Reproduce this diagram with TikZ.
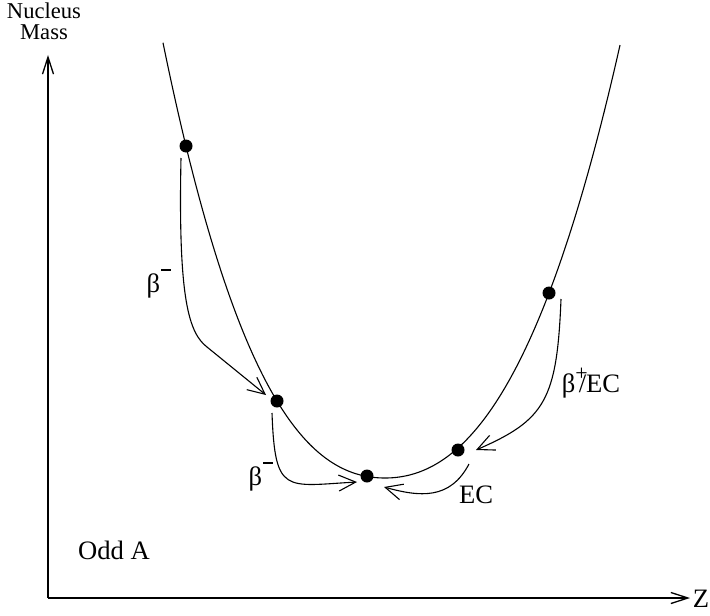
\documentclass[tikz,border=0pt]{standalone}
\usepackage{fontspec}
\setmainfont{Liberation Serif}
\usetikzlibrary{arrows.meta}
\tikzset{
  ax/.style={line width=0.65pt, -{Straight Barb[length=8.5pt,width=5.5pt,line width=0.65pt]}},
  dec/.style={line width=0.55pt, -{Straight Barb[length=8.5pt,width=8pt,line width=0.55pt]}},
  dot/.style={circle, fill=black, inner sep=0pt, minimum size=6.5pt},
  lbl/.style={font=\fontsize{13.3}{15}\selectfont, inner sep=0pt},
  smalllbl/.style={font=\fontsize{11.3}{10.6}\selectfont, inner sep=0pt},
}
\newcommand{\bminus}{β\kern0.6pt\raisebox{11pt}{\rule{5pt}{0.7pt}}}
\begin{document}
\begin{tikzpicture}[x=0.5pt,y=-0.5pt]
\useasboundingbox (0,0) rectangle (710,615);
% axes
\coordinate (o) at (48,598);
\coordinate (ytop) at (48,55);
\coordinate (xend) at (690,598);
\draw[ax] (o) -- (ytop);
\draw[ax] (o) -- (xend);
\node[smalllbl,align=center,anchor=north] (ylab) at (44,2) {Nucleus\\Mass};
\node[lbl] (xlab) at (701,599) {Z};
\node[lbl] (odd) at (114,550) {Odd A};
% curve
\draw[line width=0.55pt] plot[domain=163:385,samples=90] (\x,{478-44.8*((\x-385)/100)^2-19.6*abs((\x-385)/100)^3})
  -- plot[domain=385:620,samples=90] (\x,{478-46.5*((\x-385)/100)^2-13.57*((\x-385)/100)^3});
\node[dot] (p1) at (186,146) {};
\node[dot] (p2) at (277,401) {};
\node[dot] (p3) at (367,476) {};
\node[dot] (p4) at (458,450) {};
\node[dot] (p5) at (549,293) {};
% decay arrows
\coordinate (a1s) at (181,158);
\coordinate (a1m) at (207,347);
\coordinate (a1e) at (266,395);
\draw[dec] (a1s) .. controls (178,300) and (189,333) .. (a1m) -- (a1e);
\coordinate (a2s) at (272,413);
\coordinate (a2e) at (357,482);
\draw[dec] (a2s) .. controls (275,495) and (285,486) .. (a2e);
\coordinate (a3s) at (469,464);
\coordinate (a3e) at (384,487);
\draw[dec] (a3s) .. controls (450,500) and (420,497) .. (a3e);
\coordinate (a4s) at (561,299);
\coordinate (a4e) at (476,450);
\draw[dec] (a4s) .. controls (557,400) and (545,420) .. (a4e);
\node[lbl] (l1) at (159,284) {\bminus};
\node[lbl] (l2) at (261,477) {\bminus};
\node[lbl] (l3) at (476,495) {EC};
\node[lbl] (l4) at (591,383) {β\raisebox{6pt}{\fontsize{11}{11}\selectfont +}\kern-4.5pt/EC};
\end{tikzpicture}
\end{document}
